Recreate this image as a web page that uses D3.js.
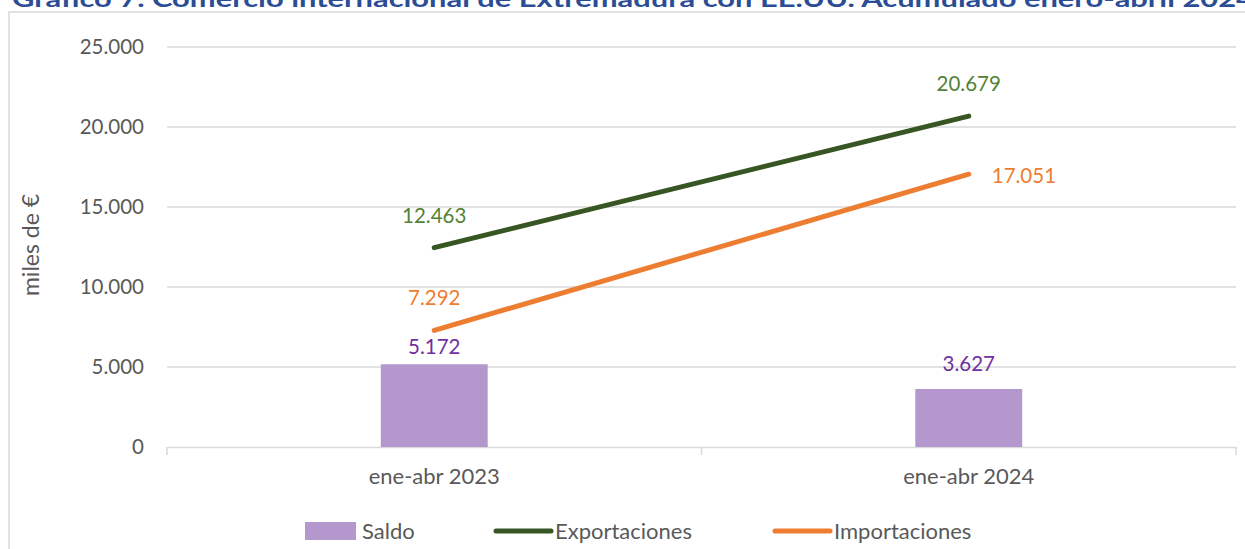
<!DOCTYPE html>
<html>
<head>
<meta charset="utf-8">
<script src="https://cdn.jsdelivr.net/npm/d3@7"></script>
<style>
  body { margin: 0; background: #fff; overflow: hidden; }
  text { font-family: Lato, "Open Sans", sans-serif; }
</style>
</head>
<body>
<script>
// datos (miles de €)
const categorias = ["ene-abr 2023", "ene-abr 2024"];
const saldo = [5172, 3627];
const exportaciones = [12463, 20679];
const importaciones = [7292, 17051];
const ticksY = [0, 5000, 10000, 15000, 20000, 25000];
const titulo = "Gráfico 7. Comercio internacional de Extremadura con EE.UU. Acumulado enero-abril 2024";

const width = 1245, height = 549;
const fmt = d3.format(",.0f");
const es = v => fmt(v).replace(/,/g, ".");

const svg = d3.select("body").append("svg")
    .attr("width", width).attr("height", height);

// titulo (cortado arriba como en el original)
svg.append("text")
    .attr("x", 12).attr("y", 7)
    .attr("textLength", 1242).attr("lengthAdjust", "spacingAndGlyphs")
    .style("font-size", "22px").style("font-weight", "bold")
    .style("fill", "#2a4d96")
    .text(titulo);

// borde del grafico
svg.append("rect")
    .attr("x", 9).attr("y", 12).attr("width", 1260).attr("height", 560)
    .attr("fill", "none").attr("stroke", "#d9d9d9").attr("stroke-width", 1.5);

const x = d3.scaleBand().domain(categorias).range([167, 1236]);
const y = d3.scaleLinear().domain([0, 25000]).range([447, 47]);

// rejilla
svg.append("g").selectAll("line")
    .data(ticksY.filter(d => d > 0))
    .join("line")
    .attr("x1", 167).attr("x2", 1236)
    .attr("y1", d => y(d)).attr("y2", d => y(d))
    .attr("stroke", "#d9d9d9").attr("stroke-width", 1.5);

// eje Y
svg.append("g").selectAll("text")
    .data(ticksY)
    .join("text")
    .attr("x", 144).attr("y", d => y(d))
    .attr("dy", "0.36em")
    .attr("text-anchor", "end")
    .style("font-size", "20.5px").style("fill", "#595959")
    .text(d => es(d));

svg.append("text")
    .attr("transform", `translate(39,245) rotate(-90)`)
    .attr("text-anchor", "middle")
    .style("font-size", "23px").style("fill", "#595959")
    .text("miles de €");

// eje X
const ax = svg.append("g")
    .attr("transform", `translate(0,${y(0)})`)
    .call(d3.axisBottom(x).tickSize(0).tickPadding(21));
ax.select(".domain").attr("stroke", "#d9d9d9").attr("stroke-width", 1.5);
ax.selectAll("text").style("font-size", "22px").style("fill", "#595959")
    .style("font-family", "Lato, sans-serif");
const bordes = [0, 1, 2].map(i => 167 + i * x.bandwidth());
ax.selectAll(".sep").data(bordes).join("line")
    .attr("x1", d => d).attr("x2", d => d)
    .attr("y1", 0).attr("y2", 8)
    .attr("stroke", "#d9d9d9").attr("stroke-width", 1.5);

// barras de saldo
const barW = x.bandwidth() * 0.2;
const cx = c => x(c) + x.bandwidth() / 2;
svg.append("g").selectAll("rect")
    .data(categorias)
    .join("rect")
    .attr("x", c => cx(c) - barW / 2)
    .attr("y", (c, i) => y(saldo[i]))
    .attr("width", barW)
    .attr("height", (c, i) => y(0) - y(saldo[i]))
    .attr("fill", "#b498cd");

const saldoDy = [-10, -18];
svg.append("g").selectAll("text")
    .data(categorias)
    .join("text")
    .attr("x", c => cx(c))
    .attr("y", (c, i) => y(saldo[i]) + saldoDy[i])
    .attr("text-anchor", "middle")
    .style("font-size", "20.5px").style("fill", "#7030a0")
    .text((c, i) => es(saldo[i]));

// lineas
const series = [
    { nombre: "Exportaciones", valores: exportaciones, color: "#375623", etiqueta: "#548235", pos: ["above", "above"] },
    { nombre: "Importaciones", valores: importaciones, color: "#ed7d31", etiqueta: "#ed7d31", pos: ["above", "right"] }
];
const line = d3.line().x(d => cx(d.c)).y(d => y(d.v));

series.forEach(s => {
    const pts = categorias.map((c, i) => ({ c, v: s.valores[i] }));
    svg.append("path")
        .datum(pts)
        .attr("d", line)
        .attr("fill", "none")
        .attr("stroke", s.color)
        .attr("stroke-width", 5)
        .attr("stroke-linecap", "round");
    svg.append("g").selectAll("text")
        .data(pts)
        .join("text")
        .attr("x", (d, i) => s.pos[i] == "right" ? cx(d.c) + 23 : cx(d.c))
        .attr("y", (d, i) => s.pos[i] == "right" ? y(d.v) + 9 : y(d.v) - 25)
        .attr("text-anchor", (d, i) => s.pos[i] == "right" ? "start" : "middle")
        .style("font-size", "20.5px").style("fill", s.etiqueta)
        .text(d => es(d.v));
});

// leyenda
const ly = 531;
const leg = svg.append("g");
leg.append("rect").attr("x", 305).attr("y", ly - 9).attr("width", 51).attr("height", 18)
    .attr("fill", "#b498cd");
leg.append("text").attr("x", 362).attr("y", ly).attr("dy", "0.36em")
    .style("font-size", "22px").style("fill", "#595959").text("Saldo");
[[496, 551, series[0]], [775, 830, series[1]]].forEach(([a, b, s]) => {
    leg.append("line").attr("x1", a).attr("x2", b).attr("y1", ly).attr("y2", ly)
        .attr("stroke", s.color).attr("stroke-width", 5).attr("stroke-linecap", "round");
    leg.append("text").attr("x", b + 4).attr("y", ly).attr("dy", "0.36em")
        .style("font-size", "22px").style("fill", "#595959").text(s.nombre);
});
</script>
</body>
</html>
